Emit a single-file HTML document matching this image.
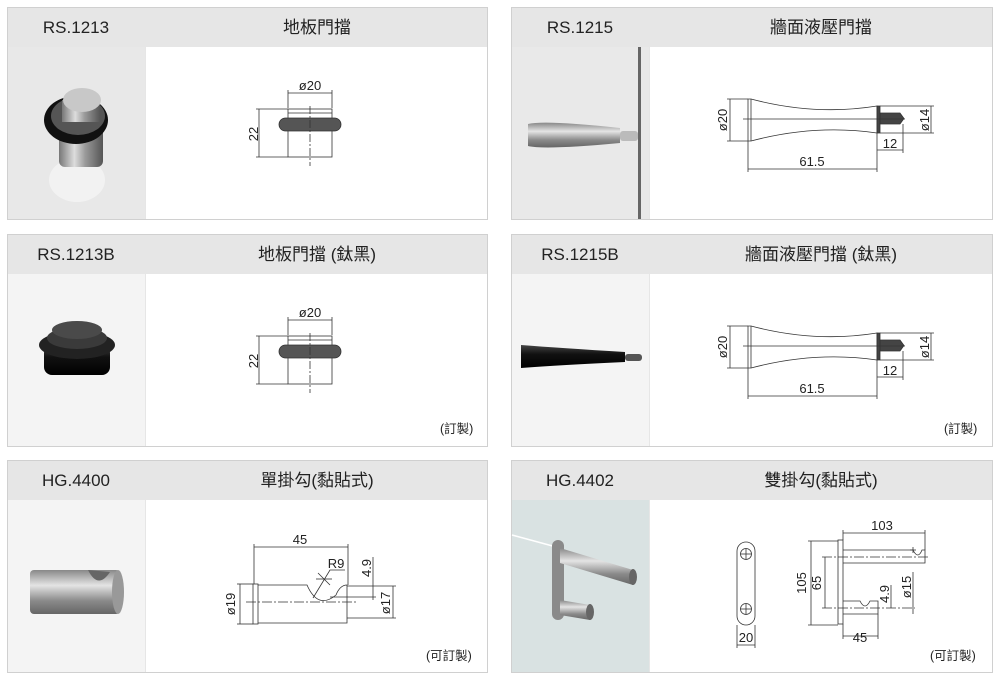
<!DOCTYPE html>
<html><head><meta charset="utf-8"><style>
body{margin:0;background:#fff;width:1000px;height:681px;overflow:hidden}
svg text{font-family:"Liberation Sans","Noto Sans CJK TC",sans-serif;fill:#222}
</style></head><body>
<svg width="1000" height="681" viewBox="0 0 1000 681" xmlns="http://www.w3.org/2000/svg">
<defs>
<linearGradient id="st" x1="0" y1="0" x2="1" y2="0"><stop offset="0" stop-color="#777"/><stop offset=".35" stop-color="#ddd"/><stop offset=".6" stop-color="#999"/><stop offset="1" stop-color="#555"/></linearGradient>
<linearGradient id="sv" x1="0" y1="0" x2="0" y2="1"><stop offset="0" stop-color="#888"/><stop offset=".35" stop-color="#e4e4e4"/><stop offset=".7" stop-color="#8a8a8a"/><stop offset="1" stop-color="#666"/></linearGradient>
<linearGradient id="bk" x1="0" y1="0" x2="0" y2="1"><stop offset="0" stop-color="#444"/><stop offset=".4" stop-color="#111"/><stop offset="1" stop-color="#000"/></linearGradient>
</defs>
<g fill="#e6e6e6" stroke="#d0d0d0">
<rect x="7.5" y="7.5" width="480" height="212"/><rect x="511.5" y="7.5" width="481" height="212"/>
<rect x="7.5" y="234.5" width="480" height="212"/><rect x="511.5" y="234.5" width="481" height="212"/>
<rect x="7.5" y="460.5" width="480" height="212"/><rect x="511.5" y="460.5" width="481" height="212"/>
</g>
<g fill="#fff">
<rect x="146" y="47" width="341" height="172"/><rect x="650" y="47" width="342" height="172"/>
<rect x="146" y="274" width="341" height="172"/><rect x="650" y="274" width="342" height="172"/>
<rect x="146" y="500" width="341" height="172"/><rect x="650" y="500" width="342" height="172"/>
</g>
<rect x="8" y="47" width="137" height="172" fill="#e8e8e8"/>
<rect x="512" y="47" width="137" height="172" fill="#e9e9e9"/>
<rect x="8" y="274" width="137" height="172" fill="#f4f4f4"/>
<rect x="512" y="274" width="137" height="172" fill="#f4f4f4"/>
<rect x="8" y="500" width="137" height="172" fill="#f4f4f4"/>
<rect x="512" y="500" width="137" height="172" fill="#d9e2e2"/>
<!-- photo 1 -->
<ellipse cx="77" cy="180" rx="28" ry="22" fill="#f2f2f2"/>
<rect x="59" y="125" width="44" height="42" rx="6" fill="url(#st)"/>
<ellipse cx="76" cy="120" rx="32" ry="24" fill="#111"/>
<ellipse cx="78" cy="116" rx="27" ry="19" fill="#555"/>
<rect x="62" y="100" width="38" height="22" fill="url(#st)"/>
<ellipse cx="82" cy="100" rx="19" ry="12" fill="#c8c8c8"/>
<!-- photo 2 -->
<rect x="638" y="47" width="3" height="172" fill="#666"/>
<path d="M528 124 Q545 120 620 128 L620 143 Q545 150 528 146 Z" fill="url(#sv)"/>
<rect x="620" y="131" width="18" height="10" rx="3" fill="#bbb"/>
<!-- photo 3 -->
<rect x="44" y="345" width="66" height="30" rx="8" fill="url(#bk)"/>
<ellipse cx="77" cy="345" rx="38" ry="14" fill="#222"/>
<ellipse cx="77" cy="338" rx="30" ry="11" fill="#3a3a3a"/>
<ellipse cx="77" cy="330" rx="25" ry="9" fill="#4a4a4a"/>
<!-- photo 4 -->
<path d="M521 345 Q560 348 625 352 L625 362 Q560 365 521 368 Z" fill="url(#bk)"/>
<rect x="625" y="354" width="17" height="7" rx="3" fill="#555"/>
<!-- photo 5 -->
<rect x="30" y="570" width="90" height="44" rx="4" fill="url(#sv)"/>
<ellipse cx="118" cy="592" rx="6" ry="22" fill="#999"/>
<path d="M88 570 Q98 590 110 572 Z" fill="#666"/>
<!-- photo 6 -->
<line x1="512" y1="535" x2="560" y2="548" stroke="#fff" stroke-width="1.5"/>
<rect x="552" y="540" width="12" height="80" rx="6" fill="#8a8a8a"/>
<path d="M560 548 L633 570 L633 585 L560 563 Z" fill="url(#sv)"/>
<ellipse cx="633" cy="577" rx="4" ry="8" fill="#666"/>
<path d="M560 600 L590 605 L590 620 L560 615 Z" fill="url(#sv)"/>
<ellipse cx="590" cy="612" rx="4" ry="8" fill="#666"/>
<g font-size="17" text-anchor="middle">
<text x="76" y="33">RS.1213</text><text x="317" y="33">地板門擋</text>
<text x="580" y="33">RS.1215</text><text x="821" y="33">牆面液壓門擋</text>
<text x="76" y="260">RS.1213B</text><text x="317" y="260">地板門擋 (鈦黑)</text>
<text x="580" y="260">RS.1215B</text><text x="821" y="260">牆面液壓門擋 (鈦黑)</text>
<text x="76" y="486">HG.4400</text><text x="317" y="486">單掛勾(黏貼式)</text>
<text x="580" y="486">HG.4402</text><text x="821" y="486">雙掛勾(黏貼式)</text>
</g>
<g font-size="12.5">
<text x="440" y="433">(訂製)</text><text x="944" y="433">(訂製)</text>
<text x="426" y="660">(可訂製)</text><text x="930" y="660">(可訂製)</text>
</g>
<g stroke="#333" stroke-width=".8" fill="none">
<rect x="288" y="109" width="44" height="48" fill="#fff"/>
<line x1="288" y1="113" x2="332" y2="113"/>
<rect x="279" y="118" width="62" height="13" rx="6.5" fill="#555" stroke="#333"/>
<line x1="310" y1="106" x2="310" y2="166" stroke-dasharray="8 2 2 2"/>
<line x1="288" y1="93" x2="332" y2="93"/><line x1="288" y1="90" x2="288" y2="108"/><line x1="332" y1="90" x2="332" y2="108"/>
<line x1="259" y1="109" x2="259" y2="157"/><line x1="256" y1="109" x2="288" y2="109"/><line x1="256" y1="157" x2="288" y2="157"/>
</g>
<g stroke="#333" stroke-width=".8" fill="none" transform="translate(0,227)">
<rect x="288" y="109" width="44" height="48" fill="#fff"/>
<line x1="288" y1="113" x2="332" y2="113"/>
<rect x="279" y="118" width="62" height="13" rx="6.5" fill="#555" stroke="#333"/>
<line x1="310" y1="106" x2="310" y2="166" stroke-dasharray="8 2 2 2"/>
<line x1="288" y1="93" x2="332" y2="93"/><line x1="288" y1="90" x2="288" y2="108"/><line x1="332" y1="90" x2="332" y2="108"/>
<line x1="259" y1="109" x2="259" y2="157"/><line x1="256" y1="109" x2="288" y2="109"/><line x1="256" y1="157" x2="288" y2="157"/>
</g>
<g font-size="13">
<text x="310" y="90" text-anchor="middle">ø20</text><text x="310" y="317" text-anchor="middle">ø20</text>
<text transform="translate(258,134) rotate(-90)" text-anchor="middle">22</text>
<text transform="translate(258,361) rotate(-90)" text-anchor="middle">22</text>
</g>
<g>
<g stroke="#333" stroke-width=".8" fill="none">
<path d="M748 99 L751 99 Q815 116 877 106 L877 133 Q815 124 751 141 L748 141 Z" fill="#fff"/>
<line x1="751" y1="99" x2="751" y2="141"/>
<rect x="877" y="106" width="3" height="27" fill="#444"/>
<path d="M880 113 L900 113 L904 118.5 L900 124 L880 124 Z" fill="#444"/>
<line x1="743" y1="119" x2="905" y2="119"/>
<line x1="730" y1="99" x2="730" y2="141"/><line x1="727" y1="99" x2="748" y2="99"/><line x1="727" y1="141" x2="748" y2="141"/>
<line x1="931" y1="106" x2="931" y2="133"/><line x1="880" y1="106" x2="934" y2="106"/><line x1="880" y1="133" x2="934" y2="133"/>
<line x1="877" y1="150" x2="903" y2="150"/><line x1="877" y1="133" x2="877" y2="172"/><line x1="903" y1="124" x2="903" y2="153"/>
<line x1="748" y1="169" x2="877" y2="169"/><line x1="748" y1="141" x2="748" y2="172"/>
</g>
<g font-size="13"><text x="890" y="148" text-anchor="middle">12</text><text x="812" y="166" text-anchor="middle">61.5</text>
<text transform="translate(727,120) rotate(-90)" text-anchor="middle">ø20</text>
<text transform="translate(929,120) rotate(-90)" text-anchor="middle">ø14</text></g>
</g>
<g transform="translate(0,227)">
<g stroke="#333" stroke-width=".8" fill="none">
<path d="M748 99 L751 99 Q815 116 877 106 L877 133 Q815 124 751 141 L748 141 Z" fill="#fff"/>
<line x1="751" y1="99" x2="751" y2="141"/>
<rect x="877" y="106" width="3" height="27" fill="#444"/>
<path d="M880 113 L900 113 L904 118.5 L900 124 L880 124 Z" fill="#444"/>
<line x1="743" y1="119" x2="905" y2="119"/>
<line x1="730" y1="99" x2="730" y2="141"/><line x1="727" y1="99" x2="748" y2="99"/><line x1="727" y1="141" x2="748" y2="141"/>
<line x1="931" y1="106" x2="931" y2="133"/><line x1="880" y1="106" x2="934" y2="106"/><line x1="880" y1="133" x2="934" y2="133"/>
<line x1="877" y1="150" x2="903" y2="150"/><line x1="877" y1="133" x2="877" y2="172"/><line x1="903" y1="124" x2="903" y2="153"/>
<line x1="748" y1="169" x2="877" y2="169"/><line x1="748" y1="141" x2="748" y2="172"/>
</g>
<g font-size="13"><text x="890" y="148" text-anchor="middle">12</text><text x="812" y="166" text-anchor="middle">61.5</text>
<text transform="translate(727,120) rotate(-90)" text-anchor="middle">ø20</text>
<text transform="translate(929,120) rotate(-90)" text-anchor="middle">ø14</text></g>
</g>
<g stroke="#333" stroke-width=".8" fill="none">
<rect x="253" y="584" width="5" height="40" fill="#fff"/>
<path d="M258 585 L307 585 Q318 610 336 595 Q340 585 347 585 L347 623 L258 623"/>
<line x1="246" y1="602" x2="358" y2="602" stroke-dasharray="10 2 2 2"/>
<line x1="254" y1="547" x2="348" y2="547"/><line x1="254" y1="544" x2="254" y2="584"/><line x1="348" y1="544" x2="348" y2="585"/>
<path d="M313 598 L330 570 L345 570"/><line x1="318" y1="573" x2="330" y2="585"/><line x1="316" y1="579" x2="332" y2="579"/>
<line x1="240" y1="584" x2="240" y2="624"/><line x1="237" y1="584" x2="253" y2="584"/><line x1="237" y1="624" x2="253" y2="624"/>
<line x1="373" y1="557" x2="373" y2="600"/><line x1="330" y1="597" x2="376" y2="597"/>
<line x1="393" y1="586" x2="393" y2="618"/><line x1="347" y1="586" x2="396" y2="586"/><line x1="347" y1="618" x2="396" y2="618"/>
</g>
<g font-size="13"><text x="300" y="544" text-anchor="middle">45</text><text x="336" y="568" text-anchor="middle">R9</text>
<text transform="translate(235,604) rotate(-90)" text-anchor="middle">ø19</text>
<text transform="translate(371,568) rotate(-90)" text-anchor="middle">4.9</text>
<text transform="translate(390,603) rotate(-90)" text-anchor="middle">ø17</text></g>
<g stroke="#333" stroke-width=".8" fill="none">
<rect x="737" y="542" width="18" height="83" rx="9" fill="#fff"/>
<circle cx="746" cy="554" r="5.5"/><line x1="740.5" y1="554" x2="751.5" y2="554"/><line x1="746" y1="548.5" x2="746" y2="559.5"/>
<circle cx="746" cy="609" r="5.5"/><line x1="740.5" y1="609" x2="751.5" y2="609"/><line x1="746" y1="603.5" x2="746" y2="614.5"/>
<line x1="737" y1="625" x2="737" y2="648"/><line x1="755" y1="625" x2="755" y2="648"/><line x1="737" y1="645" x2="755" y2="645"/>
<rect x="838" y="540" width="5" height="84" fill="#fff"/>
<path d="M843 550 L913 550 Q918 560 922 550 L925 550 L925 563 L843 563"/>
<line x1="822" y1="557" x2="930" y2="557" stroke-dasharray="10 2 2 2"/>
<path d="M843 601 L860 601 Q865 611 870 601 L878 601 L878 614 L843 614"/>
<line x1="822" y1="608" x2="915" y2="608" stroke-dasharray="10 2 2 2"/>
<line x1="843" y1="533" x2="925" y2="533"/><line x1="843" y1="530" x2="843" y2="540"/><line x1="925" y1="530" x2="925" y2="550"/>
<line x1="811" y1="541" x2="811" y2="625"/><line x1="808" y1="541" x2="838" y2="541"/><line x1="808" y1="625" x2="838" y2="625"/>
<line x1="825" y1="557" x2="825" y2="608"/>
<line x1="843" y1="636" x2="878" y2="636"/><line x1="843" y1="624" x2="843" y2="639"/><line x1="878" y1="614" x2="878" y2="639"/>
<line x1="891" y1="585" x2="891" y2="608"/><line x1="913" y1="572" x2="913" y2="614"/>
<line x1="913" y1="547" x2="913" y2="553"/><line x1="910" y1="550" x2="916" y2="550"/>
</g>
<g font-size="13"><text x="882" y="530" text-anchor="middle">103</text><text x="860" y="642" text-anchor="middle">45</text>
<text x="746" y="642" text-anchor="middle">20</text>
<text transform="translate(806,583) rotate(-90)" text-anchor="middle">105</text>
<text transform="translate(821,583) rotate(-90)" text-anchor="middle">65</text>
<text transform="translate(889,594) rotate(-90)" text-anchor="middle">4.9</text>
<text transform="translate(911,587) rotate(-90)" text-anchor="middle">ø15</text></g>
</svg>
</body></html>
